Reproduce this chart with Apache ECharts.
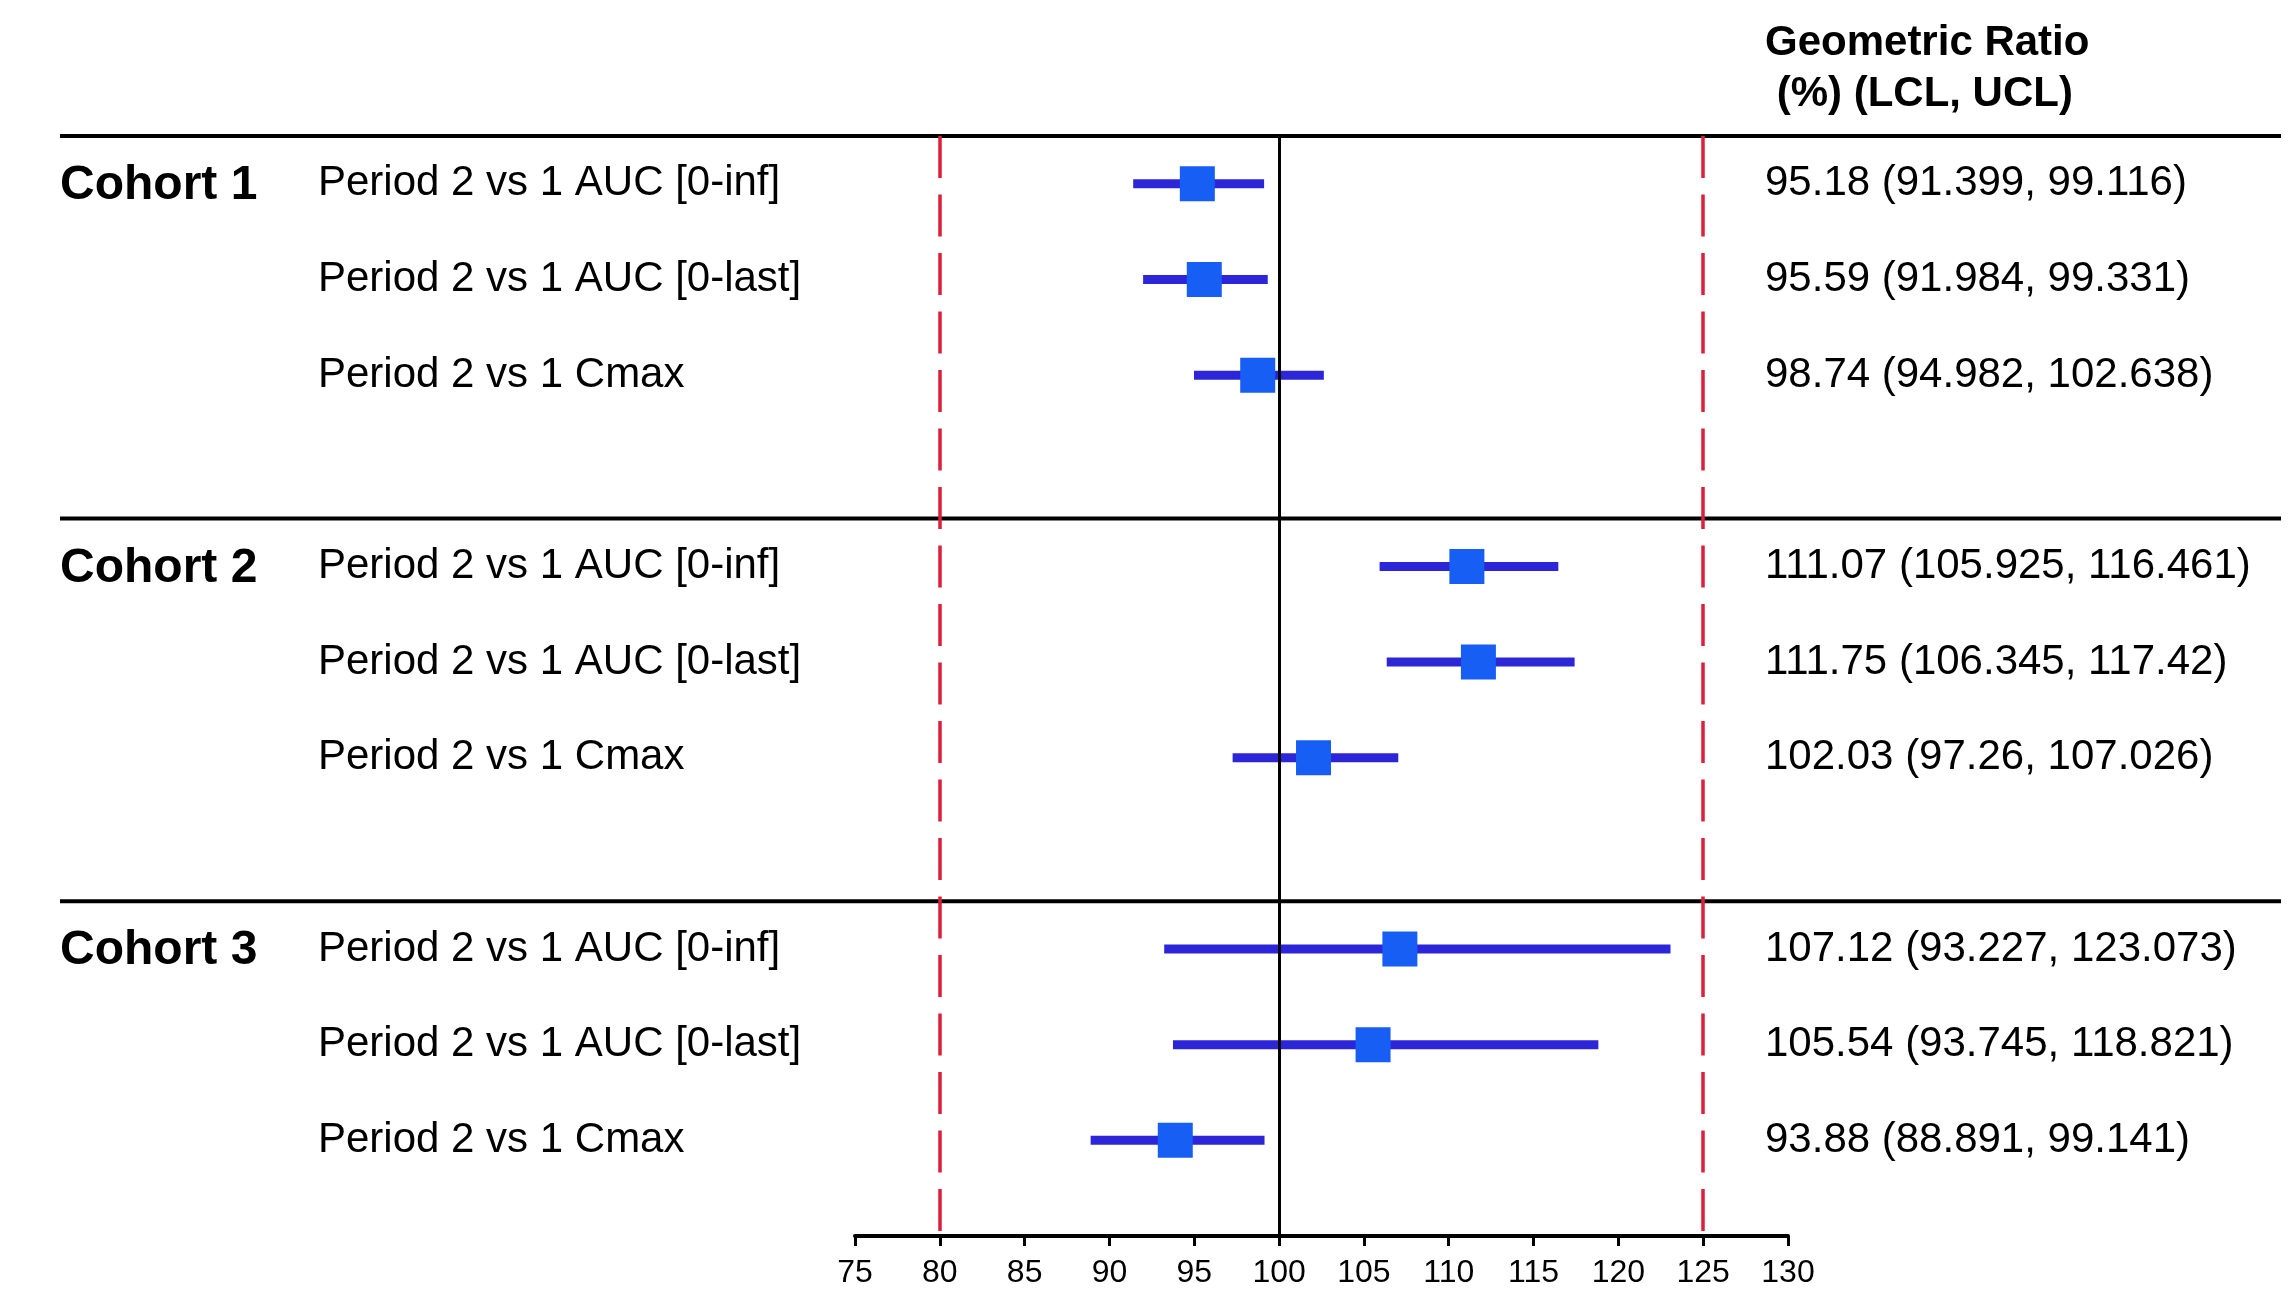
<!DOCTYPE html>
<html>
<head>
<meta charset="utf-8">
<script src="https://cdn.jsdelivr.net/npm/echarts@6/dist/echarts.min.js"></script>
<style>html,body{margin:0;padding:0;background:#fff;}#c{width:2296px;height:1298px;}</style>
</head>
<body>
<div id="c"></div>
<script>
// ---- data ----
const cohorts = ['Cohort 1', 'Cohort 2', 'Cohort 3'];
const params = ['Period 2 vs 1 AUC [0-inf]', 'Period 2 vs 1 AUC [0-last]', 'Period 2 vs 1 Cmax'];
const rowPos = [0, 1, 2, 4, 5, 6, 8, 9, 10];
const rowCohort = [0, 0, 0, 1, 1, 1, 2, 2, 2];
const rowParam = [0, 1, 2, 0, 1, 2, 0, 1, 2];
const ratio = [95.18, 95.59, 98.74, 111.07, 111.75, 102.03, 107.12, 105.54, 93.88];
const lcl = [91.399, 91.984, 94.982, 105.925, 106.345, 97.26, 93.227, 93.745, 88.891];
const ucl = [99.116, 99.331, 102.638, 116.461, 117.42, 107.026, 123.073, 118.821, 99.141];
const separators = [-0.5, 3.5, 7.5];
const refLines = [80, 125];
const nullLine = 100;
const xTicks = [75, 80, 85, 90, 95, 100, 105, 110, 115, 120, 125, 130];
const headerLines = ['Geometric Ratio', ' (%) (LCL, UCL)'];

const FAM = 'Liberation Sans';
const chart = echarts.init(document.getElementById('c'), null, {renderer: 'canvas'});

function txt(x, y, text, size, weight) {
  return {type: 'text', style: {x: x, y: y, text: text, fill: '#000', fontFamily: FAM, fontSize: size, fontWeight: weight, align: 'left', verticalAlign: 'middle'}};
}

const option = {
  animation: false,
  backgroundColor: '#ffffff',
  grid: {left: 855, right: 508, top: 136, height: 1100, containLabel: false},
  xAxis: {
    type: 'value', min: xTicks[0], max: xTicks[xTicks.length - 1], interval: 5,
    axisLine: {show: true, onZero: false, lineStyle: {color: '#000', width: 4}},
    axisTick: {show: true, length: 10, lineStyle: {color: '#000', width: 3}},
    axisLabel: {show: true, margin: 21, color: '#000', fontSize: 32, fontFamily: FAM},
    splitLine: {show: false}
  },
  yAxis: {type: 'value', inverse: true, min: -0.5, max: 11, show: false, splitLine: {show: false}},
  graphic: headerLines.map((t, i) => ({
    type: 'text', x: 1765, y: 43 + i * 51,
    style: {text: t, fill: '#000', fontFamily: FAM, fontSize: 42, fontWeight: 'bold', align: 'left', verticalAlign: 'middle'}
  })),
  series: [
    {
      // horizontal cohort separators
      type: 'custom', clip: false, z: 2,
      data: separators.map(s => [xTicks[0], s]),
      renderItem: function (p, api) {
        const y = api.coord([api.value(0), api.value(1)])[1];
        return {type: 'line', shape: {x1: 60, y1: y, x2: 2281, y2: y}, style: {stroke: '#000', lineWidth: 4}};
      }
    },
    {
      // CI whiskers
      type: 'custom', z: 3,
      data: rowPos.map((k, i) => [lcl[i], ucl[i], k]),
      renderItem: function (p, api) {
        const a = api.coord([api.value(0), api.value(2)]);
        const b = api.coord([api.value(1), api.value(2)]);
        return {type: 'rect', shape: {x: a[0], y: a[1] - 4.5, width: b[0] - a[0], height: 9}, style: {fill: '#2C26D8'}};
      }
    },
    {
      // reference lines
      type: 'line', data: [], z: 4,
      markLine: {
        silent: true, symbol: ['none', 'none'], label: {show: false}, animation: false,
        data: refLines.map(v => [
          {coord: [v, -0.5], lineStyle: {color: '#DC1F3A', width: 3.5, type: [42, 16.5]}},
          {coord: [v, 11]}
        ]).concat([[
          {coord: [nullLine, -0.5], lineStyle: {color: '#000', width: 3, type: 'solid'}},
          {coord: [nullLine, 11]}
        ]])
      }
    },
    {
      // point estimates
      type: 'scatter', z: 5, symbol: 'rect', symbolSize: 35,
      itemStyle: {color: '#175EF5', opacity: 1},
      data: rowPos.map((k, i) => [ratio[i], k])
    },
    {
      // text columns
      type: 'custom', clip: false, z: 6,
      data: rowPos.map((k, i) => [xTicks[0], k]),
      renderItem: function (p, api) {
        const i = p.dataIndex;
        const y = api.coord([api.value(0), api.value(1)])[1];
        const children = [
          txt(318, y, params[rowParam[i]], 42, 'normal'),
          txt(1765, y, ratio[i] + ' (' + lcl[i] + ', ' + ucl[i] + ')', 42, 'normal')
        ];
        if (rowParam[i] === 0) {
          children.push(txt(60, y + 2, cohorts[rowCohort[i]], 48, 'bold'));
        }
        return {type: 'group', children: children};
      }
    }
  ]
};
chart.setOption(option);
</script>
</body>
</html>
